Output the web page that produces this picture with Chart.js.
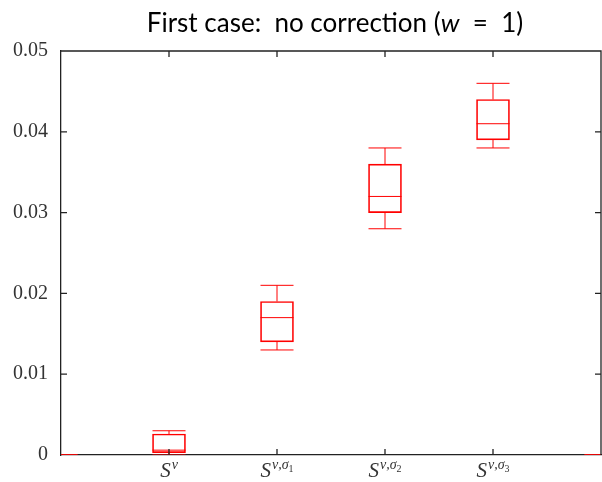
<!DOCTYPE html>
<html lang="en">
<head>
    <meta charset="UTF-8">
    <title>First case: no correction</title>
    <script src="https://cdn.jsdelivr.net/npm/chart.js"></script>
    <style>
        html, body { margin: 0; padding: 0; background: #fff; }
        .chart-container { width: 602px; height: 482px; }
    </style>
</head>
<body>
    <div class="chart-container">
        <canvas id="boxChart"></canvas>
    </div>

    <script>
        // categories: x = 0 .. 5, the two outer ones are empty
        const labelBase = ['', 'S', 'S', 'S', 'S', ''];
        const labelSup = ['', 'ν', 'ν,σ', 'ν,σ', 'ν,σ', ''];
        const labelSub = ['', '', '1', '2', '3', ''];

        // box plot values
        const whiskerLow = [0, 0, 0.013, 0.028, 0.038, 0];
        const boxLow = [0, 0.0003, 0.014, 0.030, 0.039, 0];
        const medians = [0, 0.0006, 0.017, 0.032, 0.041, 0];
        const boxHigh = [0, 0.0026, 0.019, 0.036, 0.044, 0];
        const whiskerHigh = [0, 0.003, 0.021, 0.038, 0.046, 0];

        const yTicks = [0, 0.01, 0.02, 0.03, 0.04, 0.05];

        const RED = '#ff0000';
        const AXIS = '#222';
        const BOX_W = 33;

        // whiskers, caps and medians on top of the floating bars
        const whiskerPlugin = {
            id: 'whiskers',
            afterDatasetsDraw(chart) {
                const { ctx, chartArea, scales } = chart;
                ctx.save();
                ctx.beginPath();
                ctx.rect(chartArea.left, chartArea.top, chartArea.right - chartArea.left, chartArea.bottom - chartArea.top);
                ctx.clip();
                ctx.strokeStyle = RED;
                ctx.lineWidth = 1;
                labelBase.forEach((_, i) => {
                    const x = scales.x.getPixelForValue(i);
                    const h = BOX_W / 2;
                    const yMin = scales.y.getPixelForValue(whiskerLow[i]);
                    const yQ1 = scales.y.getPixelForValue(boxLow[i]);
                    const yMed = scales.y.getPixelForValue(medians[i]);
                    const yQ3 = scales.y.getPixelForValue(boxHigh[i]);
                    const yMax = scales.y.getPixelForValue(whiskerHigh[i]);
                    ctx.beginPath();
                    ctx.moveTo(x, yQ3); ctx.lineTo(x, yMax);
                    ctx.moveTo(x - h, yMax); ctx.lineTo(x + h, yMax);
                    ctx.moveTo(x, yQ1); ctx.lineTo(x, yMin);
                    ctx.moveTo(x - h, yMin); ctx.lineTo(x + h, yMin);
                    ctx.moveTo(x - h, yMed); ctx.lineTo(x + h, yMed);
                    ctx.stroke();
                });
                ctx.restore();
            }
        };

        // frame, inward ticks, x labels with superscripts, title
        const framePlugin = {
            id: 'frame',
            afterDraw(chart) {
                const { ctx, chartArea, scales } = chart;
                const { left, right, top, bottom } = chartArea;
                ctx.save();
                ctx.strokeStyle = AXIS;
                ctx.lineWidth = 1.3;
                ctx.beginPath();
                ctx.moveTo(left, top); ctx.lineTo(right, top); ctx.lineTo(right, bottom);
                yTicks.forEach(v => {
                    const y = scales.y.getPixelForValue(v);
                    if (v === 0 || v === 0.05) return;
                    ctx.moveTo(left, y); ctx.lineTo(left + 6, y);
                    ctx.moveTo(right, y); ctx.lineTo(right - 6, y);
                });
                labelBase.forEach((b, i) => {
                    if (!b) return;
                    const x = scales.x.getPixelForValue(i);
                    ctx.moveTo(x, top); ctx.lineTo(x, top + 6);
                    ctx.moveTo(x, bottom); ctx.lineTo(x, bottom - 6);
                });
                ctx.stroke();

                // x labels
                ctx.fillStyle = '#333';
                ctx.textBaseline = 'alphabetic';
                ctx.textAlign = 'left';
                const baseFont = 'italic 21px "Liberation Serif"';
                const supFont = 'italic 14px "Liberation Serif"';
                const subFont = '10px "Liberation Serif"';
                labelBase.forEach((b, i) => {
                    if (!b) return;
                    ctx.font = baseFont; const wb = ctx.measureText(b).width;
                    ctx.font = supFont; const ws = ctx.measureText(labelSup[i]).width;
                    ctx.font = subFont; const wu = ctx.measureText(labelSub[i]).width;
                    let x = scales.x.getPixelForValue(i) - (wb + 1 + ws + wu) / 2;
                    const yb = 477;
                    ctx.font = baseFont; ctx.fillText(b, x, yb); x += wb + 1;
                    ctx.font = supFont; ctx.fillText(labelSup[i], x, yb - 8); x += ws;
                    ctx.font = subFont; ctx.fillText(labelSub[i], x, yb - 5);
                });

                // title
                ctx.fillStyle = '#000';
                const parts = [
                    { t: 'First case:  no correction (', f: '26px "Lato"' },
                    { t: 'w', f: 'italic 26px "Lato"' },
                    { t: '  =  1)', f: '26px "Lato"' }
                ];
                let total = 0;
                parts.forEach(p => { ctx.font = p.f; p.w = ctx.measureText(p.t).width; total += p.w; });
                let tx = 335 - total / 2;
                parts.forEach(p => { ctx.font = p.f; ctx.fillText(p.t, tx, 32); tx += p.w; });
                ctx.restore();
            }
        };

        const ctx = document.getElementById('boxChart').getContext('2d');
        new Chart(ctx, {
            type: 'bar',
            data: {
                labels: labelBase.map((b, i) => b + labelSup[i] + labelSub[i]),
                datasets: [{
                    label: 'box',
                    data: boxLow.map((v, i) => [v, boxHigh[i]]),
                    backgroundColor: 'rgba(0,0,0,0)',
                    borderColor: RED,
                    borderWidth: 1,
                    borderSkipped: false,
                    barThickness: BOX_W,
                    clip: 0
                }]
            },
            options: {
                responsive: true,
                maintainAspectRatio: false,
                animation: false,
                layout: { padding: { top: 51, right: 1, left: 0, bottom: 0 } },
                plugins: {
                    legend: { display: false },
                    tooltip: { enabled: false },
                    title: { display: false }
                },
                scales: {
                    x: {
                        type: 'category',
                        offset: false,
                        grid: { display: false, drawTicks: false },
                        border: { display: true, color: AXIS, width: 1.3 },
                        ticks: { display: false },
                        afterFit: scale => { scale.height = 27; }
                    },
                    y: {
                        min: 0,
                        max: 0.05,
                        grid: { display: false, drawTicks: false },
                        border: { display: true, color: AXIS, width: 1.3 },
                        afterFit: scale => { scale.width = 61; },
                        afterBuildTicks: scale => { scale.ticks = yTicks.map(v => ({ value: v })); },
                        ticks: {
                            padding: 13,
                            color: '#333',
                            font: { family: '"Liberation Serif"', size: 20 },
                            callback: v => v === 0 ? '0' : v.toFixed(2)
                        }
                    }
                }
            },
            plugins: [whiskerPlugin, framePlugin]
        });
    </script>
</body>
</html>
